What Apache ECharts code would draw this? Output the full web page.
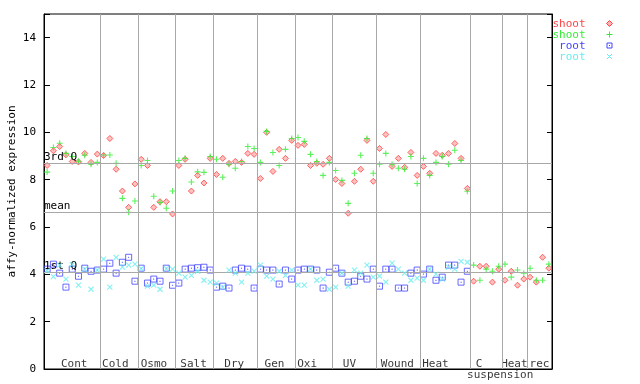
<!DOCTYPE html>
<html><head><meta charset="utf-8">
<script src="https://cdn.jsdelivr.net/npm/echarts@6/dist/echarts.min.js"></script>
<style>html,body{margin:0;padding:0;background:#fff}#c{width:640px;height:384px}</style>
</head><body><div id="c"></div>
<script>
// ---------- data ----------
const groupNames = ['Cont','Cold','Osmo','Salt','Dry','Gen','Oxi','UV','Wound','Heat','C suspension','Heat','rec'];
const groupSizes = [9,6,6,6,7,6,6,7,7,8,5,4,4];
const seriesNames = ['shoot','shoot','root','root'];
const shootRed = [8.60,9.22,9.40,9.05,8.77,8.75,9.11,8.73,9.08, 9.02,9.74,8.44,7.52,6.83,7.82, 8.86,8.60,6.83,7.07,7.07,6.55, 8.60,8.86,7.52,8.18,7.86,8.90, 8.22,8.90,8.69,8.77,8.73,9.11,9.07, 8.05,10.00,8.35,9.28,8.90,9.66, 9.45,9.49,8.60,8.69,8.65,8.90, 8.01,7.84,6.58,7.93,8.44,9.66,7.93, 9.32,9.91,8.56,8.90,8.52,9.15,8.18, 8.56,8.27,9.11,9.03,9.11,9.53,8.90,7.63, 3.71,4.34,4.34,3.67,4.22, 3.75,4.13,3.54,3.80, 3.88,3.67,4.72,4.26];
const shootGreen = [8.32,9.36,9.54,9.11,8.98,8.78,9.03,8.65,8.73, 9.04,9.04,8.69,7.21,6.62,7.10, 8.60,8.81,7.30,7.04,6.79,7.52, 8.81,8.90,7.90,8.33,8.31,8.98, 8.86,8.10,8.65,8.48,8.77,9.40,9.32, 8.73,10.04,9.15,8.60,9.28,9.74, 9.78,9.62,9.07,8.77,8.18,8.73, 8.39,7.97,7.00,8.27,9.03,9.74,8.27, 8.65,9.11,8.65,8.48,8.44,8.98,7.84, 8.90,8.18,8.73,8.98,8.65,9.24,8.81,7.51, 4.39,3.75,4.22,4.13,4.34, 4.43,3.88,4.18,4.05, 4.26,3.75,3.75,4.43];
const rootBlue = [4.22,4.43,4.05,3.46,4.22,3.92,4.26,4.13,4.18, 4.22,4.47,4.05,4.51,4.72,3.71, 4.26,3.63,3.80,3.71,4.26,3.54, 3.63,4.22,4.26,4.28,4.30,4.18, 3.46,3.50,3.42,4.18,4.26,4.22,3.42, 4.22,4.18,4.18,3.59,4.18,3.80, 4.18,4.22,4.22,4.18,3.42,4.09, 4.26,4.05,3.67,3.71,3.92,3.80,4.22, 3.50,4.22,4.22,3.42,3.42,4.05,4.18, 4.01,4.22,3.75,3.88,4.39,4.39,3.67,4.13];
const rootCyan = [4.15,3.90,4.39,3.80,4.41,3.54,4.22,3.37,4.18, 4.64,3.46,4.72,4.30,4.39,4.43, 4.24,3.50,3.54,3.37,4.24,4.22, 4.05,3.88,3.96,4.13,3.75,3.67, 3.63,3.46,4.18,4.05,3.67,4.05,4.14, 4.39,3.92,3.80,4.13,3.96,4.18, 3.54,3.54,4.22,3.75,3.80,3.37, 3.46,4.05,3.50,4.18,4.05,4.39,3.88, 3.92,3.67,4.47,4.22,4.05,3.75,3.84, 3.75,4.22,4.01,3.80,4.30,4.22,4.55,4.51];
const statNames = ['3rd Q','mean','1st Q'];
const statValues = [8.69, 6.62, 4.09];
const yTickLabels = [0,2,4,6,8,10,12,14];
const yMax = 15;

// ---------- styles ----------
const FONT = 'DejaVu Sans Mono';
const colors = ['#ff4444','#33ee33','#4444ff','#66eeee'];
const labelDx = [2,-4,-3,-1,-1,-1.5,-6.5,-5,-1,-10,-7,0,0];
const secondLineDx = 14;

const total = groupSizes.reduce((a,b)=>a+b,0);
const bounds = []; const centers = [];
let acc = 0;
groupSizes.forEach((s)=>{ centers.push(acc + s/2); acc += s; bounds.push(acc); });
bounds.pop();

const labelData = [];
groupNames.forEach((n,k)=>{
  const parts = n.split(' ');
  if (parts.length === 2 && n === 'C suspension') {
    labelData.push({value:[centers[k],0], name:parts[0], label:{offset:[labelDx[k],-4.8]}});
    labelData.push({value:[centers[k],0], name:parts[1], label:{offset:[secondLineDx,6]}});
  } else {
    labelData.push({value:[centers[k],0], name:n, label:{offset:[labelDx[k],-4.8]}});
  }
});

const pts = arr => arr.map((v,i)=>[i+0.5, v]);

const chart = echarts.init(document.getElementById('c'), null, {renderer:'canvas'});
const axisCommon = {type:'value', min:0, max:yMax, interval:2, splitLine:{show:false}};
const option = {
  animation:false,
  grid:{left:44, right:88, top:14, bottom:15, containLabel:false, outerBoundsMode:'none', show:true, borderColor:'#000', borderWidth:1, backgroundColor:'transparent'},
  xAxis:{type:'value', min:0, max:total, axisLine:{show:true, lineStyle:{color:'#000'}}, axisTick:{show:false}, axisLabel:{show:false}, splitLine:{show:false}},
  yAxis:[
    Object.assign({}, axisCommon, {position:'left', name:'affy-normalized expression', nameLocation:'middle', nameGap:26, nameMoveOverlap:false,
      nameTextStyle:{fontFamily:FONT, fontSize:11, color:'#000'},
      axisLine:{show:true, lineStyle:{color:'#000'}},
      axisTick:{show:true, inside:true, length:6, lineStyle:{color:'#000'}},
      axisLabel:{color:'#000', fontFamily:FONT, fontSize:11, margin:8, formatter:v=>yTickLabels.includes(v)?String(v):''}}),
    Object.assign({}, axisCommon, {position:'right', axisLine:{show:true, lineStyle:{color:'#000'}}, axisTick:{show:true, inside:true, length:5, lineStyle:{color:'#000'}}, axisLabel:{show:false}})
  ],
  series:[
    {type:'scatter', name:'labels', z:1, silent:true, symbolSize:0, data:labelData,
      label:{show:true, position:'inside', formatter:'{b}', color:'#000', fontFamily:FONT, fontSize:11},
      markLine:{symbol:'none', silent:true, animation:false,
        lineStyle:{color:'#a8a8a8', width:1, type:'solid'},
        label:{show:false},
        data:[
          ...bounds.map(b=>({xAxis:b})),
          ...statValues.map((v,k)=>({yAxis:v, name:statNames[k], label:{show:true, position:'insideStartTop', formatter:'{b}', color:'#000', fontFamily:FONT, fontSize:11, distance:[0,1]}}))
        ]}},
    {type:'scatter', name:seriesNames[0], z:2, data:pts(shootRed), symbol:'diamond', symbolSize:6,
      itemStyle:{color:'#ffb0b0', borderColor:colors[0], borderWidth:1}},
    {type:'scatter', name:seriesNames[1], z:3, data:pts(shootGreen), symbol:'path://M3,0L3,6M0,3L6,3', symbolSize:6,
      itemStyle:{color:'none', borderColor:colors[1], borderWidth:1.1}},
    {type:'scatter', name:seriesNames[2], z:4, data:pts(rootBlue), symbol:'path://M0,0L6,0L6,6L0,6Z M2.8,2.8L3.2,2.8L3.2,3.2L2.8,3.2Z', symbolSize:6,
      itemStyle:{color:'none', borderColor:colors[2], borderWidth:1}},
    {type:'scatter', name:seriesNames[3], z:5, data:pts(rootCyan), symbol:'path://M0,0L6,6M0,6L6,0', symbolSize:5,
      itemStyle:{color:'none', borderColor:colors[3], borderWidth:1.1}}
  ],
  graphic:[]
};
chart.setOption(option);

// legend (text + symbol), right of plot
const lgX = 585.5, lgSym = 609.5, lgY0 = 24, lgStep = 11;
const g = [];
seriesNames.forEach((n,k)=>{
  const y = lgY0 + k*lgStep;
  g.push({type:'text', x:lgX, y:y, silent:true, style:{text:n, fill:colors[k], font:'11px "'+FONT+'"', align:'right', textAlign:'right', verticalAlign:'middle', textVerticalAlign:'middle'}});
  const c = lgSym, cy = y - 0.5;
  if (k===0) g.push({type:'polygon', shape:{points:[[c,cy-3],[c+3,cy],[c,cy+3],[c-3,cy]]}, style:{fill:'#ffb0b0', stroke:colors[0], lineWidth:1}});
  if (k===1) { g.push({type:'line', shape:{x1:c-3,y1:cy,x2:c+3,y2:cy}, style:{stroke:colors[1], lineWidth:1}}); g.push({type:'line', shape:{x1:c,y1:cy-3,x2:c,y2:cy+3}, style:{stroke:colors[1], lineWidth:1}}); }
  if (k===2) { g.push({type:'rect', shape:{x:c-2.5,y:cy-2.5,width:5,height:5}, style:{fill:'none', stroke:colors[2], lineWidth:1}}); g.push({type:'rect', shape:{x:c-0.5,y:cy-0.5,width:1,height:1}, style:{fill:colors[2]}}); }
  if (k===3) { g.push({type:'line', shape:{x1:c-2.5,y1:cy-2.5,x2:c+2.5,y2:cy+2.5}, style:{stroke:colors[3], lineWidth:1}}); g.push({type:'line', shape:{x1:c-2.5,y1:cy+2.5,x2:c+2.5,y2:cy-2.5}, style:{stroke:colors[3], lineWidth:1}}); }
});
chart.setOption({graphic:g});
</script></body></html>
